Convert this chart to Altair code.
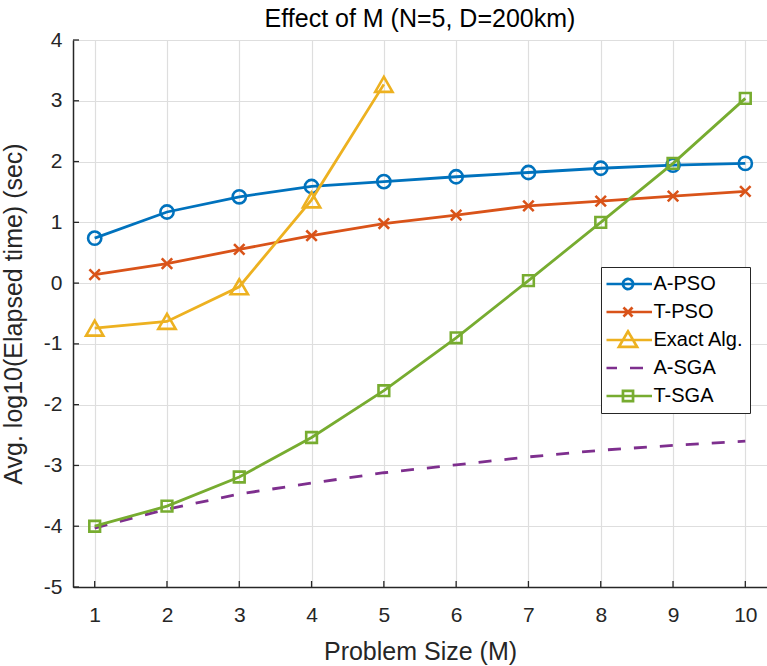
import altair as alt
import pandas as pd

# ---- data ----
m_values = [1, 2, 3, 4, 5, 6, 7, 8, 9, 10]
a_pso = [0.74, 1.17, 1.42, 1.59, 1.67, 1.75, 1.82, 1.89, 1.94, 1.97]
t_pso = [0.14, 0.32, 0.555, 0.78, 0.98, 1.12, 1.27, 1.35, 1.43, 1.51]
exact_m = [1, 2, 3, 4, 5]
exact_alg = [-0.74, -0.63, -0.06, 1.37, 3.27]
a_sga = [-4.03, -3.72, -3.47, -3.29, -3.12, -2.99, -2.86, -2.75, -2.67, -2.6]
t_sga = [-4.0, -3.67, -3.19, -2.54, -1.77, -0.9, 0.04, 1.0, 1.97, 3.04]

series_names = ["A-PSO", "T-PSO", "Exact Alg.", "A-SGA", "T-SGA"]
series_colors = ["#0072BD", "#D95319", "#EDB120", "#7E2F8E", "#77AC30"]
x_ticks = [1, 2, 3, 4, 5, 6, 7, 8, 9, 10]
y_ticks = [-5, -4, -3, -2, -1, 0, 1, 2, 3, 4]

# ---- style ----
W, H = 694, 547
FONT = "Liberation Sans"
AX = "#262626"
GRID = "#dedede"
LW = 2.8

x_scale = alt.Scale(domain=[0.7, 10.3], nice=False, zero=False)
y_scale = alt.Scale(domain=[-5, 4], nice=False, zero=False)

x_axis = alt.Axis(values=x_ticks, grid=True, gridColor=GRID, gridWidth=1.2,
                  ticks=False, tickSize=0, labelPadding=17, labelFontSize=21,
                  labelColor=AX, labelFont=FONT, domainColor=AX, domainWidth=1.5,
                  labelExpr="'' + datum.value",
                  title="Problem Size (M)", titleFontSize=25, titleFont=FONT,
                  titleFontWeight="normal", titleColor=AX, titleX=W / 2, titleY=72,
                  titleBaseline="alphabetic", labelFlush=False)
y_axis = alt.Axis(values=y_ticks, grid=True, gridColor=GRID, gridWidth=1.2,
                  ticks=False, tickSize=0, labelPadding=11, labelFontSize=21,
                  labelColor=AX, labelFont=FONT, domainColor=AX, domainWidth=1.5,
                  labelExpr="'' + datum.value",
                  title="Avg. log10(Elapsed time) (sec)", titleFontSize=25,
                  titleFont=FONT, titleFontWeight="normal", titleColor=AX,
                  titleX=-52, titleY=H / 2, titleAngle=270,
                  titleBaseline="alphabetic", labelFlush=False)


def X(field="M"):
    return alt.X(f"{field}:Q", scale=x_scale, axis=x_axis)


def Y(field="v"):
    return alt.Y(f"{field}:Q", scale=y_scale, axis=y_axis)


def frame(xs, ys, name):
    return pd.DataFrame({"M": xs, "v": ys, "series": name})


frames = {
    "A-PSO": frame(m_values, a_pso, "A-PSO"),
    "T-PSO": frame(m_values, t_pso, "T-PSO"),
    "Exact Alg.": frame(exact_m, exact_alg, "Exact Alg."),
    "A-SGA": frame(m_values, a_sga, "A-SGA"),
    "T-SGA": frame(m_values, t_sga, "T-SGA"),
}
col = dict(zip(series_names, series_colors))

layers = []

# inward tick marks (MATLAB style)
xt = pd.DataFrame({"M": x_ticks})
yt = pd.DataFrame({"v": y_ticks})
layers.append(alt.Chart(xt).mark_rule(color=AX, strokeWidth=1.3).encode(
    x=X(), y=alt.value(H), y2=alt.value(H - 6)))
layers.append(alt.Chart(yt).mark_rule(color=AX, strokeWidth=1.3).encode(
    y=Y(), x=alt.value(0), x2=alt.value(6)))

X_PATH = "M-1,-1L1,1M-1,1L1,-1"
marker = {
    "A-PSO": dict(shape="circle", size=175),
    "T-PSO": dict(shape=X_PATH, size=110),
    "Exact Alg.": dict(shape="triangle-up", size=300),
    "T-SGA": dict(shape="square", size=115),
}

for name in series_names:
    df = frames[name]
    line_kw = dict(color=col[name], strokeWidth=LW, strokeCap="butt")
    if name == "A-SGA":
        line_kw["strokeDash"] = [13, 13]
    layers.append(alt.Chart(df).mark_line(**line_kw).encode(x=X(), y=Y()))
    if name in marker:
        layers.append(alt.Chart(df).mark_point(
            filled=False, color=col[name], strokeWidth=2.6, opacity=1,
            **marker[name]).encode(x=X(), y=Y()))

# legend carrier (invisible points, legend symbols drawn as line + marker)
legend_paths = [
    "M-1,0H1M0.21,0A0.21,0.21,0,1,1,-0.21,0A0.21,0.21,0,1,1,0.21,0",
    "M-1,0H1M-0.19,-0.19L0.19,0.19M-0.19,0.19L0.19,-0.19",
    "M-1,0H1M0,-0.36L0.38,0.29H-0.38Z",
    "M-1,0H1",
    "M-1,0H1M-0.21,-0.21H0.21V0.21H-0.21Z",
]
legend_dash = [[1, 0], [1, 0], [1, 0], [13, 13], [1, 0]]
leg_df = pd.DataFrame({"series": series_names, "M": [1] * 5, "v": [0] * 5})
leg = alt.Legend(title=None, orient="none", legendX=528, legendY=227,
                 direction="vertical", symbolSize=2304, symbolStrokeWidth=2.7,
                 symbolOpacity=1, symbolFillColor="transparent",
                 labelFontSize=20, labelColor="black", labelFont=FONT,
                 fillColor="white", strokeColor=AX, padding=5.5,
                 clipHeight=23, rowPadding=5, symbolOffset=-4, labelOffset=0)
layers.append(alt.Chart(leg_df).mark_point(filled=False, opacity=0, strokeWidth=2.7).encode(
    x=X(), y=Y(),
    color=alt.Color("series:N", scale=alt.Scale(domain=series_names, range=series_colors), legend=leg),
    shape=alt.Shape("series:N", scale=alt.Scale(domain=series_names, range=legend_paths), legend=leg),
    strokeDash=alt.StrokeDash("series:N", scale=alt.Scale(domain=series_names, range=legend_dash), legend=leg),
))

chart = alt.layer(*layers).properties(
    width=W, height=H,
    title=alt.TitleParams("Effect of M (N=5, D=200km)", fontSize=25, font=FONT,
                          fontWeight="normal", color="black", offset=-23,
                          baseline="alphabetic", anchor="middle"),
    autosize=alt.AutoSizeParams(type="none"),
    padding={"left": 73, "top": 40, "right": 0, "bottom": 79},
    background="white",
).configure_view(strokeWidth=0)

chart.save("out.html", embed_options={"renderer": "svg", "actions": False})
